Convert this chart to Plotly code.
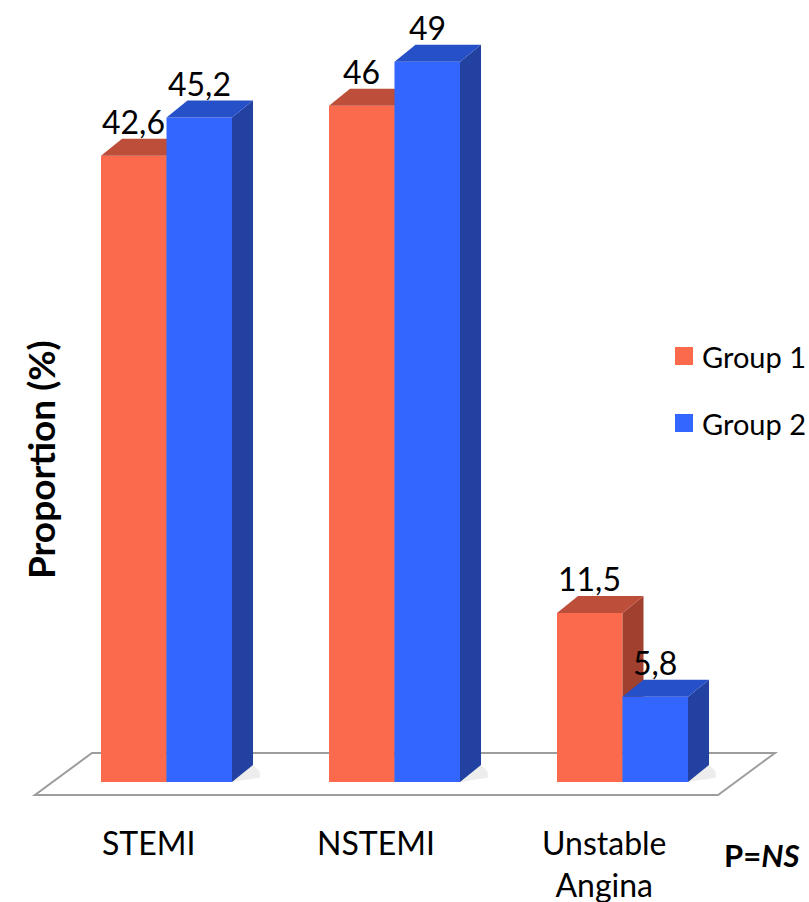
import plotly.graph_objects as go

categories = ["STEMI", "NSTEMI", "Unstable<br>Angina"]
group1 = [42.6, 46, 11.5]
group2 = [45.2, 49, 5.8]
group1_labels = ["42,6", "46", "11,5"]
group2_labels = ["45,2", "49", "5,8"]
series_names = ["Group 1", "Group 2"]

# colours: front, top, side faces
RED = ("#FC6A4E", "#BD4F3A", "#A0402F")
BLUE = ("#3366FF", "#2650C8", "#2241A0")

FONT = "Lato, 'Open Sans', sans-serif"

W, H = 809, 902
PX_X = 228.0          # pixels per category step
X0_PX = 166.5         # pixel of the first category centre
PX_Y = 14.7           # pixels per percent
BASE_PX = 782.0       # pixel row of zero

bar_w = 65.5 / PX_X   # width of one bar in category units
dx = 21 / PX_X        # depth offset (x)
dy = 17 / PX_Y        # depth offset (y)

x_range = [-X0_PX / PX_X, (W - X0_PX) / PX_X]
y_range = [-(H - BASE_PX) / PX_Y, BASE_PX / PX_Y]

n = len(categories)
xs = list(range(n))

fig = go.Figure()


def add_series(vals, offset, cols, name, xa, ya):
    """Front faces as bars, plus top/right faces and floor shadow."""
    fig.add_trace(go.Bar(
        x=xs, y=vals, width=bar_w, offset=offset, name=name,
        marker=dict(color=cols[0], line=dict(width=0)),
        xaxis=xa, yaxis=ya, showlegend=False))
    for i, v in enumerate(vals):
        xl = xs[i] + offset
        xr = xl + bar_w
        fig.add_trace(go.Scatter(
            x=[xr, xr + dx + 0.03, xr + dx + 0.03, xr + dx, xr],
            y=[0, 0.25 * dy, 0.6 * dy, dy, 0],
            mode="lines", fill="toself", fillcolor="rgba(0,0,0,0.07)",
            line=dict(width=0), hoverinfo="skip", showlegend=False,
            xaxis=xa, yaxis=ya))
        fig.add_trace(go.Scatter(
            x=[xr, xr + dx, xr + dx, xr, xr],
            y=[0, dy, v + dy, v, 0],
            mode="lines", fill="toself", fillcolor=cols[2],
            line=dict(width=0), hoverinfo="skip", showlegend=False,
            xaxis=xa, yaxis=ya))
        fig.add_trace(go.Scatter(
            x=[xl, xr, xr + dx, xl + dx, xl],
            y=[v, v, v + dy, v + dy, v],
            mode="lines", fill="toself", fillcolor=cols[1],
            line=dict(width=0), hoverinfo="skip", showlegend=False,
            xaxis=xa, yaxis=ya))


# group 1 on the base axes, group 2 on overlaid axes so it sits in front
add_series(group1, -bar_w, RED, series_names[0], "x", "y")
add_series(group2, 0, BLUE, series_names[1], "x2", "y2")

# floor plate
fl_l, fl_r = -0.577, n - 1 + 0.419
fl_front, fl_back = -13 / PX_Y, 29 / PX_Y
fl_shift = 57 / PX_X
floor_path = (f"M {fl_l},{fl_front} L {fl_r},{fl_front} "
              f"L {fl_r + fl_shift},{fl_back} L {fl_l + fl_shift},{fl_back} Z")
shapes = [dict(type="path", path=floor_path, xref="x", yref="y",
               fillcolor="white", line=dict(color="#9d9d9d", width=2),
               layer="below")]

annotations = []
for i in range(n):
    annotations.append(dict(
        x=xs[i] - bar_w / 2, y=group1[i], text=group1_labels[i],
        showarrow=False, yanchor="middle", yshift=34,
        font=dict(family=FONT, size=32, color="black")))
    annotations.append(dict(
        x=xs[i] + bar_w / 2, y=group2[i], text=group2_labels[i],
        showarrow=False, yanchor="middle", yshift=34,
        font=dict(family=FONT, size=32, color="black")))
    lines = categories[i].count("<br>") + 1
    annotations.append(dict(
        x=xs[i] - 0.08, y=-(842 + 21.5 * (lines - 1) - BASE_PX) / PX_Y,
        text=categories[i], showarrow=False, yanchor="middle",
        font=dict(family=FONT, size=32, color="black")))

annotations.append(dict(
    xref="paper", yref="paper", x=40 / W, y=1 - 460 / H,
    text="<b>Proportion (%)</b>", textangle=-90, showarrow=False,
    xanchor="center", yanchor="middle",
    font=dict(family=FONT, size=37, color="black")))
annotations.append(dict(
    xref="paper", yref="paper", x=801 / W, y=1 - 855 / H,
    text="<b>P=<i>NS</i></b>", showarrow=False,
    xanchor="right", yanchor="middle",
    font=dict(family=FONT, size=31, color="black")))

# legend: coloured squares with labels
leg_y = [356, 423]
for name, cols, yc in zip(series_names, (RED, BLUE), leg_y):
    shapes.append(dict(type="rect", xref="paper", yref="paper",
                       x0=675 / W, x1=693 / W,
                       y0=1 - (yc + 9) / H, y1=1 - (yc - 9) / H,
                       fillcolor=cols[0], line=dict(width=0)))
    annotations.append(dict(
        xref="paper", yref="paper", x=700 / W, y=1 - yc / H,
        text=name, showarrow=False, xanchor="left", yanchor="middle",
        font=dict(family=FONT, size=29, color="black")))

fig.update_layout(
    width=W, height=H,
    margin=dict(l=0, r=0, t=0, b=0),
    paper_bgcolor="white", plot_bgcolor="white",
    barmode="overlay",
    xaxis=dict(range=x_range, visible=False, fixedrange=True),
    yaxis=dict(range=y_range, visible=False, fixedrange=True),
    xaxis2=dict(range=x_range, visible=False, fixedrange=True,
                overlaying="x"),
    yaxis2=dict(range=y_range, visible=False, fixedrange=True,
                overlaying="y"),
    showlegend=False,
    shapes=shapes,
    annotations=annotations,
)

fig.write_html("out.html")
